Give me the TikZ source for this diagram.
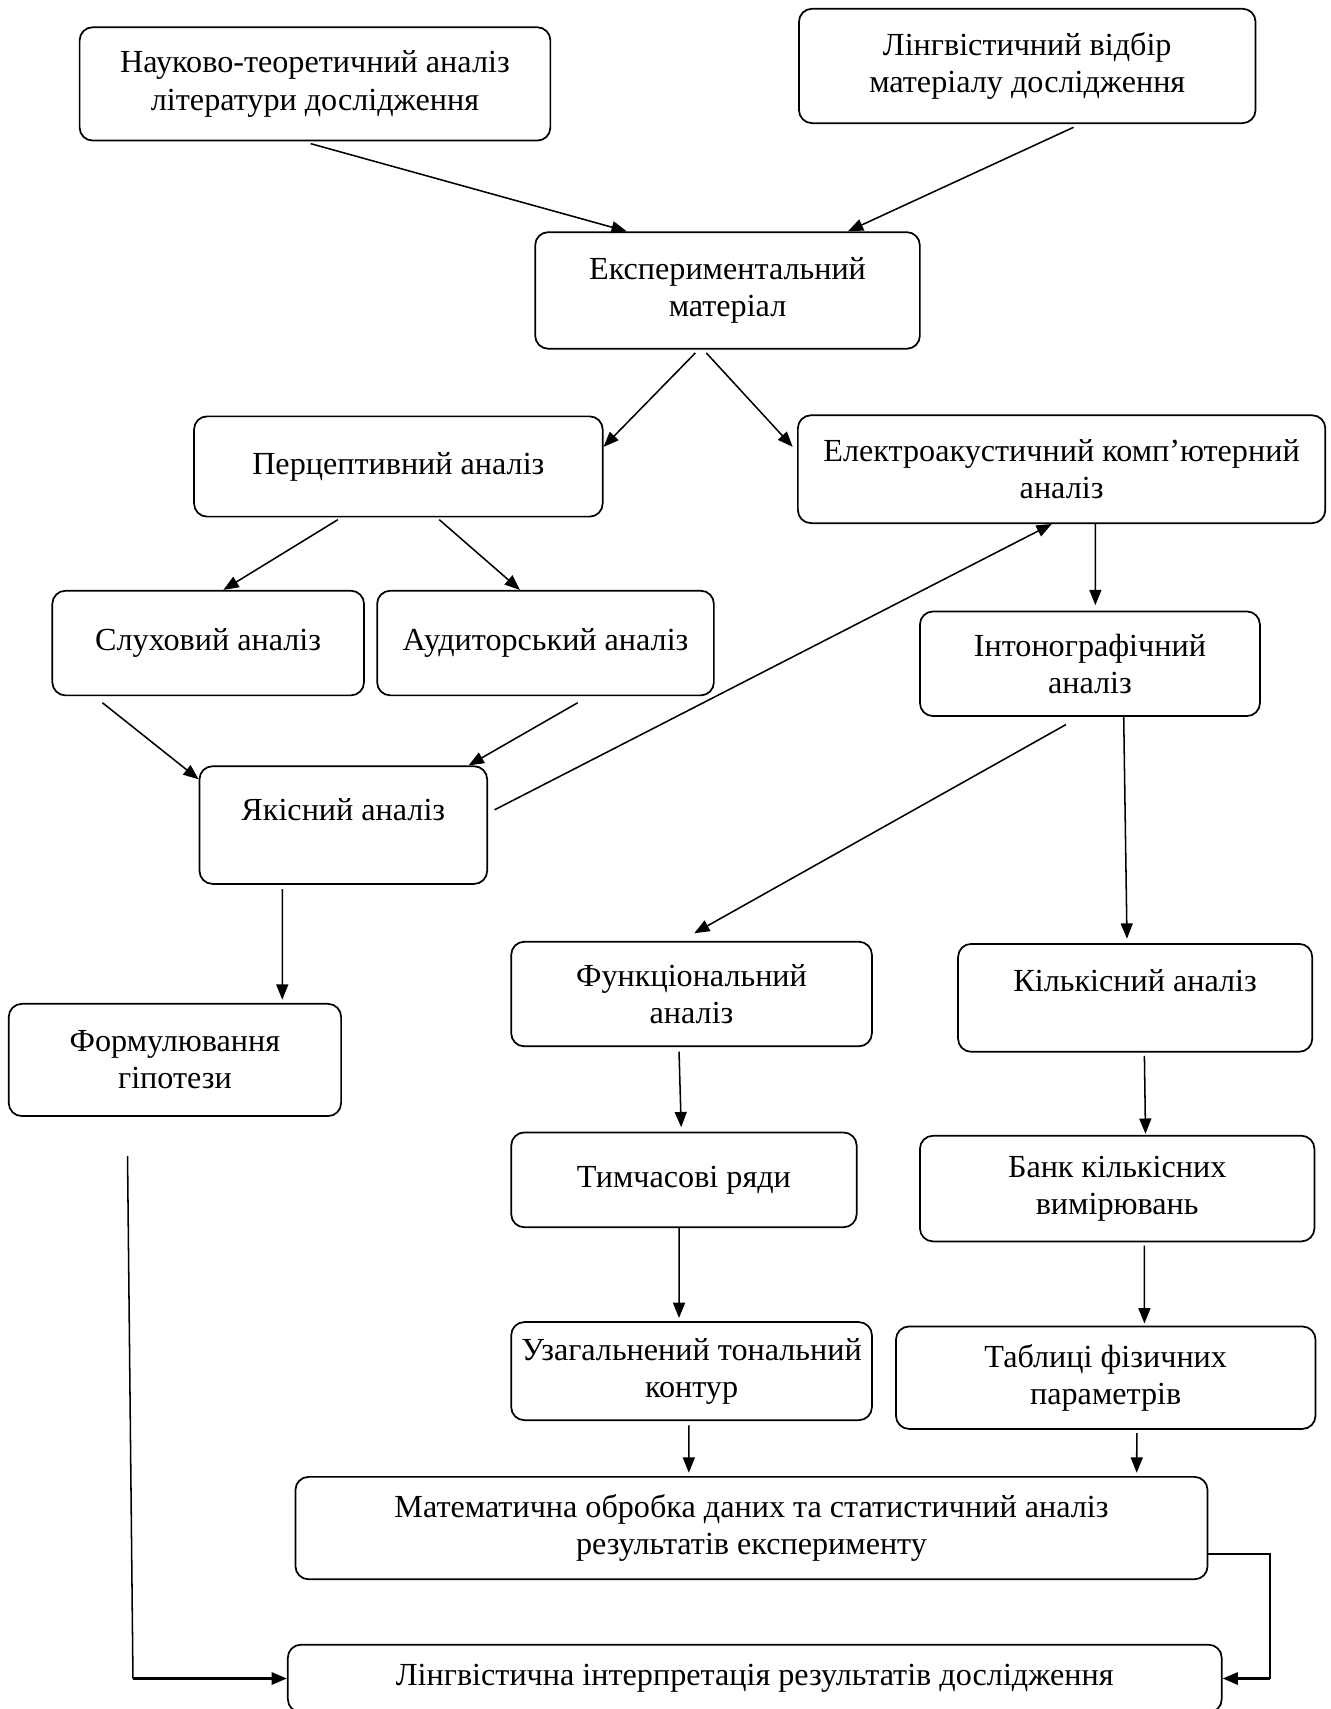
\documentclass[tikz,border=0pt]{standalone}
\usepackage{fontspec}
\setmainfont{Liberation Serif}
\usetikzlibrary{arrows.meta}

\tikzset{
  block/.style={draw, rounded corners=0.24cm, line width=0.9pt, align=center,
    inner sep=0pt, font=\fontsize{16.8}{19.4}\selectfont},
}

\begin{document}
\begin{tikzpicture}[x=0.02cm,y=-0.02cm]
      \useasboundingbox (0,0) rectangle (1221,1568);
      \begin{scope}[every node/.style={block}]
        \node[minimum width=8.64cm,minimum height=2.08cm] (nauk) at (289,77) {Науково-теоретичний аналіз\\літератури дослідження};
        \node[minimum width=8.38cm,minimum height=2.10cm] (vidbir) at (942.5,60.5) {Лінгвістичний відбір\\матеріалу дослідження};
        \node[minimum width=7.06cm,minimum height=2.14cm] (eksp) at (667.5,266.5) {Експериментальний\\матеріал};
        \node[minimum width=7.50cm,minimum height=1.84cm] (percep) at (365.5,428) {Перцептивний аналіз};
        \node[minimum width=9.68cm,minimum height=1.98cm] (elak) at (974,430.5) {Електроакустичний комп’ютерний\\аналіз};
        \node[minimum width=5.72cm,minimum height=1.92cm] (sluh) at (191,590) {Слуховий аналіз};
        \node[minimum width=6.18cm,minimum height=1.92cm] (audyt) at (500.5,590) {Аудиторський аналіз};
        \node[minimum width=6.24cm,minimum height=1.92cm] (inton) at (1000,609) {Інтонографічний\\аналіз};
        \node[minimum width=5.28cm,minimum height=2.16cm] (yakis) at (315,757) {\raisebox{0.28cm}[\height][\depth]{Якісний аналіз}};
        \node[minimum width=6.62cm,minimum height=1.92cm] (funk) at (634.5,912) {Функціональний\\аналіз};
        \node[minimum width=6.50cm,minimum height=1.98cm] (kilk) at (1041.5,915.5) {\raisebox{0.32cm}[\height][\depth]{Кількісний аналіз}};
        \node[minimum width=6.10cm,minimum height=2.06cm] (formul) at (160.5,972.5) {Формулювання\\гіпотези};
        \node[minimum width=6.34cm,minimum height=1.74cm] (tymch) at (627.5,1082.5) {Тимчасові ряди};
        \node[minimum width=7.24cm,minimum height=1.94cm] (bank) at (1025,1090.5) {Банк кількісних\\вимірювань};
        \node[minimum width=6.62cm,minimum height=1.80cm] (uzag) at (634.5,1258) {Узагальнений тональний\\контур};
        \node[minimum width=7.70cm,minimum height=1.88cm] (tabl) at (1014.5,1264) {Таблиці фізичних\\параметрів};
        \node[minimum width=16.74cm,minimum height=1.88cm] (matem) at (689.5,1402) {Математична обробка даних та статистичний аналіз\\результатів експерименту};
        \node[minimum width=17.14cm,minimum height=1.24cm] (interp) at (692.5,1540) {Лінгвістична інтерпретація результатів дослідження};
      \end{scope}
      \coordinate (fcorner) at (122,1540);
      \coordinate (rcorner) at (1165,1540);
      \begin{scope}[every edge/.style={draw,line width=0.8pt,-{Triangle[length=0.28cm,width=0.22cm]}}]
        \path ([xshift=-0.08cm,yshift=-0.04cm]nauk.south) edge ([xshift=-1.85cm]eksp.north);
        \path ([xshift=0.85cm,yshift=-0.06cm]vidbir.south) edge ([xshift=2.21cm]eksp.north);
        \path ([xshift=-0.59cm,yshift=-0.06cm]eksp.south) edge ([yshift=0.36cm]percep.east);
        \path ([xshift=-0.39cm,yshift=-0.06cm]eksp.south) edge ([xshift=-0.08cm,yshift=0.41cm]elak.west);
        \path ([xshift=-1.11cm,yshift=-0.04cm]percep.south) edge ([xshift=0.28cm]sluh.north);
        \path ([xshift=0.75cm,yshift=-0.04cm]percep.south) edge ([xshift=-0.47cm]audyt.north);
        \path ([xshift=-1.94cm,yshift=-0.12cm]sluh.south) edge ([yshift=0.84cm]yakis.west);
        \path ([xshift=0.59cm,yshift=-0.12cm]audyt.south) edge ([xshift=2.3cm]yakis.north);
        \path ([xshift=0.12cm,yshift=0.28cm]yakis.east) edge ([xshift=-0.18cm]elak.south);
        \path ([xshift=0.62cm]elak.south) edge ([xshift=0.1cm,yshift=0.1cm]inton.north);
        \path ([xshift=-0.44cm,yshift=-0.14cm]inton.south) edge ([xshift=0.05cm,yshift=0.14cm]funk.north);
        \path ([xshift=0.62cm]inton.south) edge ([xshift=-0.15cm,yshift=0.08cm]kilk.north);
        \path ([xshift=-1.12cm,yshift=-0.08cm]yakis.south) edge ([xshift=1.97cm,yshift=0.06cm]formul.north);
        \path ([xshift=-0.23cm,yshift=-0.08cm]funk.south) edge ([xshift=-0.05cm,yshift=0.08cm]tymch.north);
        \path ([xshift=0.17cm,yshift=-0.06cm]kilk.south) edge ([xshift=0.52cm,yshift=0.02cm]bank.north);
        \path ([xshift=-0.09cm]tymch.south) edge ([xshift=-0.23cm,yshift=0.06cm]uzag.north);
        \path ([xshift=0.5cm,yshift=-0.06cm]bank.south) edge ([xshift=0.71cm,yshift=0.04cm]tabl.north);
        \path ([xshift=-0.05cm,yshift=-0.08cm]uzag.south) edge ([xshift=-1.15cm,yshift=0.06cm]matem.north);
        \path ([xshift=0.57cm,yshift=-0.06cm]tabl.south) edge ([xshift=7.07cm,yshift=0.06cm]matem.north);
      \end{scope}
      \draw[line width=0.8pt] ([xshift=-0.87cm,yshift=-0.72cm]formul.south) -- (fcorner);
      \draw[line width=1.4pt,-{Triangle[length=0.28cm,width=0.22cm]}] (fcorner) -- (interp.west);
      \draw[line width=0.8pt] ([yshift=-0.48cm]matem.east) -| (rcorner);
      \draw[line width=1.4pt,-{Triangle[length=0.28cm,width=0.22cm]}] (rcorner) -- (interp.east);
    \end{tikzpicture}
\end{document}
